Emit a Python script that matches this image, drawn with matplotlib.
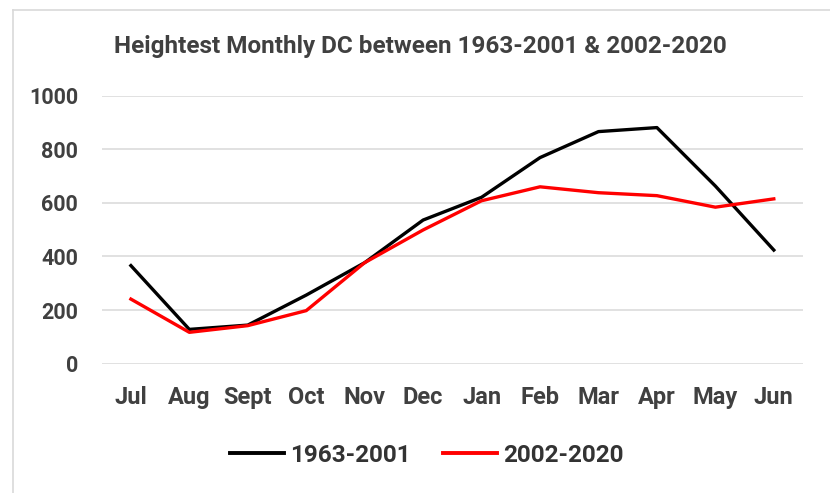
import matplotlib.pyplot as plt
from matplotlib.lines import Line2D

# Data
months = ["Jul", "Aug", "Sept", "Oct", "Nov", "Dec", "Jan", "Feb", "Mar", "Apr", "May", "Jun"]
dc_1963_2001 = [366, 128, 144, 256, 377, 536, 621, 769, 866, 881, 663, 424]
dc_2002_2020 = [241, 117, 142, 198, 377, 499, 608, 660, 638, 627, 584, 615]
y_ticks = [0, 200, 400, 600, 800, 1000]

plt.rcParams['font.family'] = ['Roboto', 'DejaVu Sans']
plt.rcParams['font.weight'] = 'bold'
txt = '#404040'

fig = plt.figure(figsize=(8.3, 4.93), dpi=100)
ax = fig.add_axes([0.1225, 0.2623, 0.8450, 0.5436])

x = range(len(months))
ax.plot(x, dc_1963_2001, color='black', lw=2.4, label='1963-2001', solid_joinstyle='round')
ax.plot(x, dc_2002_2020, color='#ff0000', lw=2.4, label='2002-2020', solid_joinstyle='round')

ax.set_xlim(-0.5, len(months) - 0.5)
ax.set_ylim(0, 1000)
ax.set_yticks(y_ticks)
ax.set_xticks(list(x))
ax.set_xticklabels(months, fontweight='bold', fontsize=17)
ax.set_yticklabels([str(v) for v in y_ticks], fontweight='bold', fontsize=15.5)
ax.yaxis.grid(True, color='#d9d9d9', lw=1.1)
ax.set_axisbelow(True)
for s in ax.spines.values():
    s.set_visible(False)
ax.tick_params(axis='both', length=0, colors=txt)
ax.tick_params(axis='y', pad=17)
ax.tick_params(axis='x', pad=16)

fig.text(420 / 830, 1 - 47 / 493, "Heightest Monthly DC between 1963-2001 & 2002-2020",
         ha='center', va='center', fontsize=17.5, fontweight='bold', color=txt)

leg = fig.legend(loc='center', bbox_to_anchor=(427 / 830, 1 - 455 / 493), ncol=2, frameon=False,
                 prop={'size': 17.5, 'weight': 'bold'}, handlelength=2.2, handletextpad=0.25,
                 columnspacing=1.35, labelcolor=txt)
for h in leg.get_lines():
    h.set_linewidth(2.8)
for t in leg.get_texts():
    t.set_fontweight('bold')
    t.set_color('#333333')

# chart frame (top and left edges visible)
fig.add_artist(Line2D([13 / 830, 13 / 830], [0, 1 - 10 / 493], transform=fig.transFigure,
                      color='#d9d9d9', lw=1.2))
fig.add_artist(Line2D([13 / 830, 1], [1 - 10 / 493, 1 - 10 / 493], transform=fig.transFigure,
                      color='#d9d9d9', lw=1.2))

fig.savefig('out.png', dpi=100)
